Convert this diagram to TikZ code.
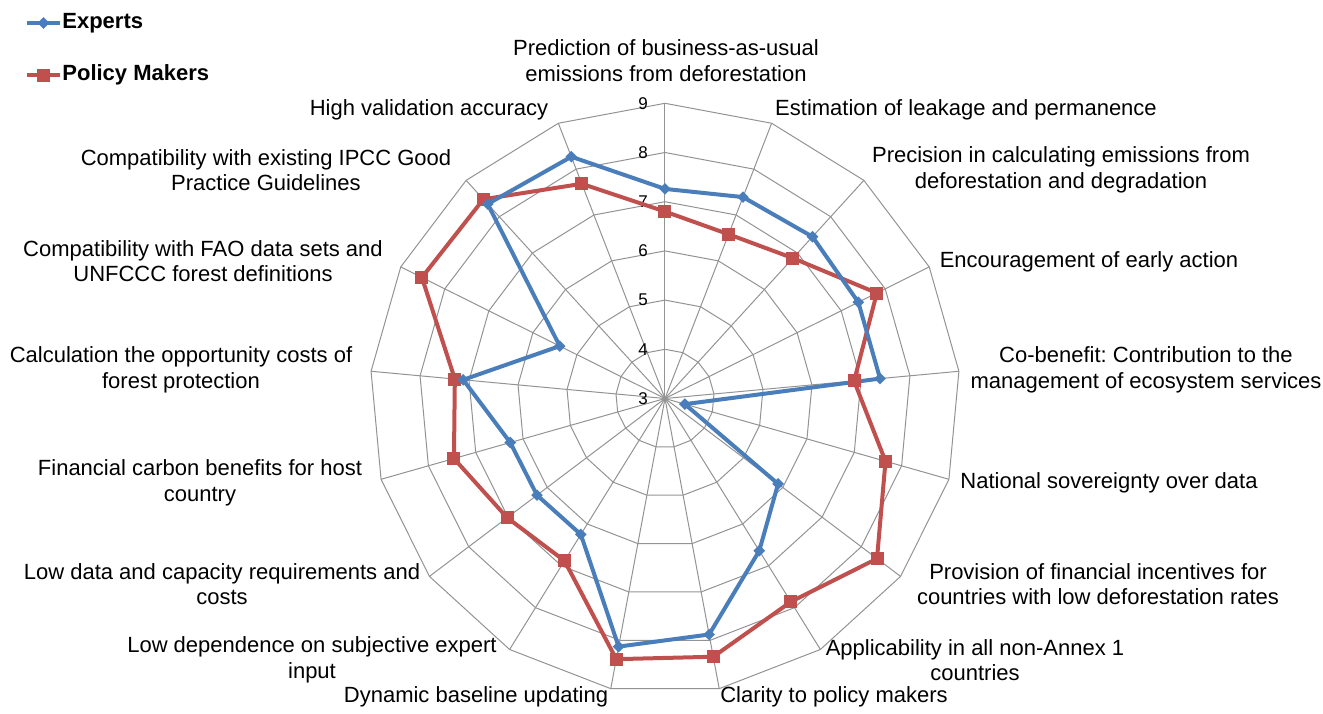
\documentclass[tikz,border=0pt]{standalone}
\usepackage{fontspec}
\setmainfont{Liberation Sans}
\usetikzlibrary{shapes.geometric}
\definecolor{expblue}{RGB}{74,126,187}
\definecolor{polred}{RGB}{192,80,77}
\frenchspacing
\tikzset{
    grid/.style={draw=gray!85,line width=0.5pt},
    ticklbl/.style={font=\fontsize{8.5}{9}\selectfont,inner sep=0pt},
    axlbl/.style={align=center,inner sep=0pt,font=\fontsize{11}{12.8}\selectfont},
    expline/.style={draw=expblue,line width=2pt,line join=round},
    polline/.style={draw=polred,line width=2pt,line join=round},
    expmark/.style={diamond,fill=expblue,inner sep=0pt,minimum size=6pt},
    polmark/.style={rectangle,fill=polred,inner sep=0pt,minimum size=6.5pt},
    leglbl/.style={anchor=west,inner sep=0pt,font=\fontsize{11}{12}\selectfont\bfseries},
}
\begin{document}
\begin{tikzpicture}[x=0.5pt,y=0.5pt]
    \useasboundingbox (-665,-314.5) rectangle (658,398.5);
    % spokes and rings
    \foreach \k in {0,...,16}
        \draw[grid] (0,0) -- ({90-\k*360/17}:295.2);
    \foreach \v in {1,...,6}
        \draw[grid] (90:\v*49.2) \foreach \k in {1,...,16} {-- ({90-\k*360/17}:\v*49.2)} -- cycle;
    \foreach \v in {3,...,9}
        \node[ticklbl] (t\v) at (-22,{(\v-3)*49.2}) {\v};
    % experts
    \foreach \v [count=\k from 0] in {7.26,7.39,7.45,7.39,7.39,3.42,5.88,6.64,7.88,8.13,6.25,6.26,6.27,7.12,5.39,8.35,8.27}
        \coordinate (e\k) at ({90-\k*360/17}:{(\v-3)*49.2});
    % policy makers
    \foreach \v [count=\k from 0] in {6.80,6.58,6.86,7.81,6.86,7.66,8.40,7.86,8.34,8.39,6.88,7.02,7.46,7.29,8.52,8.48,7.68}
        \coordinate (p\k) at ({90-\k*360/17}:{(\v-3)*49.2});
    \draw[polline] (p0) \foreach \k in {1,...,16} {-- (p\k)} -- cycle;
    \draw[expline] (e0) \foreach \k in {1,...,16} {-- (e\k)} -- cycle;
    \foreach \k in {0,...,16}
        \node[polmark] (pm\k) at (p\k) {};
    \foreach \k in {0,...,16}
        \node[expmark] (em\k) at (e\k) {};
    % category labels
    \node[axlbl] (l1) at (1,338) {Prediction of business-as-usual\\emissions from deforestation};
    \node[axlbl] (l2) at (301,288.5) {Estimation of leakage and permanence};
    \node[axlbl] (l3) at (396,228.5) {Precision in calculating emissions from\\deforestation and degradation};
    \node[axlbl] (l4) at (424,136.5) {Encouragement of early action};
    \node[axlbl] (l5) at (481,28.5) {Co-benefit: Contribution to the\\management of ecosystem services};
    \node[axlbl] (l6) at (444,-84.5) {National sovereignty over data};
    \node[axlbl] (l7) at (433,-185.5) {Provision of financial incentives for\\countries with low deforestation rates};
    \node[axlbl] (l8) at (310,-261.5) {Applicability in all non-Annex 1\\countries};
    \node[axlbl] (l9) at (169,-298.5) {Clarity to policy makers};
    \node[axlbl] (l10) at (-189,-298.5) {Dynamic baseline updating};
    \node[axlbl] (l11) at (-353,-261.5) {Low dependence on subjective expert\\input};
    \node[axlbl] (l12) at (-443,-185.5) {Low data and capacity requirements and\\costs};
    \node[axlbl] (l13) at (-465,-84.5) {Financial carbon benefits for host\\country};
    \node[axlbl] (l14) at (-484,28.5) {Calculation the opportunity costs of\\forest protection};
    \node[axlbl] (l15) at (-462,137.5) {Compatibility with FAO data sets and\\UNFCCC forest definitions};
    \node[axlbl] (l16) at (-399,228.5) {Compatibility with existing IPCC Good\\Practice Guidelines};
    \node[axlbl] (l17) at (-236,288.5) {High validation accuracy};
    % legend
    \coordinate (ea) at (-638,375.5);
    \coordinate (eb) at (-605,375.5);
    \draw[expline] (ea) -- (eb);
    \node[expmark] (emk) at (-621.5,375.5) {};
    \node[leglbl] (lexp) at (-603,375.5) {Experts};
    \coordinate (pa) at (-638,323.5);
    \coordinate (pb) at (-605,323.5);
    \draw[polline] (pa) -- (pb);
    \node[polmark] (pmk) at (-621.5,323.5) {};
    \node[leglbl] (lpol) at (-603,323.5) {Policy Makers};
\end{tikzpicture}
\end{document}
